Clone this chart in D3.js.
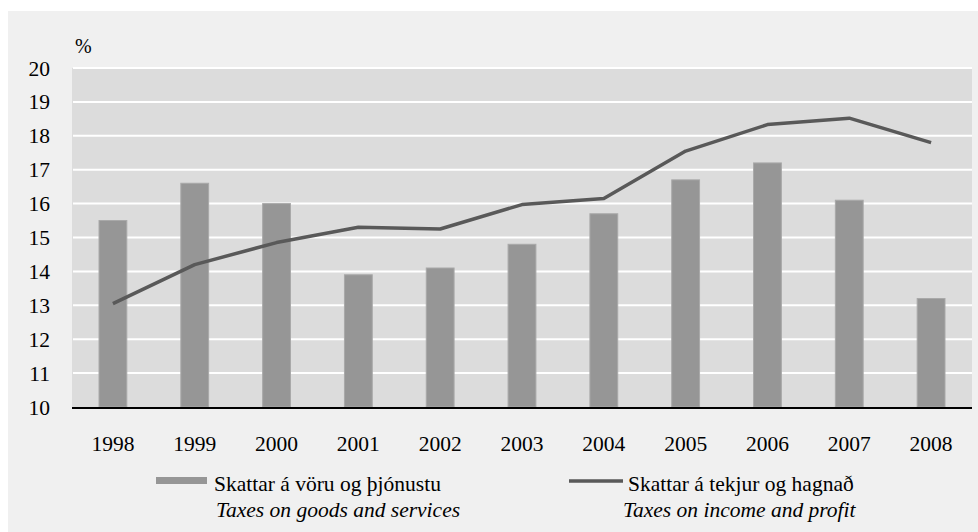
<!DOCTYPE html>
<html>
<head>
<meta charset="utf-8">
<script src="https://cdn.jsdelivr.net/npm/d3@7"></script>
<style>
  html, body { margin: 0; padding: 0; background: #fff; }
  svg { display: block; }
  text { font-family: "Liberation Serif", serif; }
</style>
</head>
<body>
<div id="chart"></div>
<script>
const years = ["1998", "1999", "2000", "2001", "2002", "2003", "2004", "2005", "2006", "2007", "2008"];
const goodsServices = [15.5, 16.6, 16.0, 13.9, 14.1, 14.8, 15.7, 16.7, 17.2, 16.1, 13.2];
const incomeProfit = [13.05, 14.2, 14.85, 15.3, 15.25, 15.97, 16.15, 17.55, 18.33, 18.52, 17.8];
const yTicks = [10, 11, 12, 13, 14, 15, 16, 17, 18, 19, 20];
const legendBar = ["Skattar á vöru og þjónustu", "Taxes on goods and services"];
const legendLine = ["Skattar á tekjur og hagnað", "Taxes on income and profit"];

const width = 978, height = 532;
const plot = { left: 72, right: 972, top: 68, bottom: 407 };
const serif = "Liberation Serif";

const svg = d3.select("#chart").append("svg")
  .attr("width", width)
  .attr("height", height)
  .attr("font-family", serif);

// outer gray panel
svg.append("rect")
  .attr("x", 8).attr("y", 11)
  .attr("width", width - 8).attr("height", height - 11)
  .attr("fill", "#f0f0f0");

const x = d3.scaleBand().domain(years).range([plot.left, plot.right]).padding(0);
const y = d3.scaleLinear().domain([10, 20]).range([plot.bottom, plot.top]);

// plot background
svg.append("rect")
  .attr("x", plot.left).attr("y", plot.top)
  .attr("width", plot.right - plot.left).attr("height", plot.bottom - plot.top)
  .attr("fill", "#dcdcdc");

// gridlines
svg.append("g").selectAll("line")
  .data(yTicks.filter(d => d > 10))
  .join("line")
  .attr("x1", plot.left + 1).attr("x2", plot.right)
  .attr("y1", d => y(d)).attr("y2", d => y(d))
  .attr("stroke", "#ffffff").attr("stroke-width", 2);

// bars
const barW = x.bandwidth() * 0.34;
svg.append("g").selectAll("rect")
  .data(goodsServices)
  .join("rect")
  .attr("x", (d, i) => x(years[i]) + x.bandwidth() / 2 - barW / 2)
  .attr("y", d => y(d))
  .attr("width", barW)
  .attr("height", d => y(10) - y(d))
  .attr("fill", "#969696")
  .attr("stroke", "#a9a9a9")
  .attr("stroke-width", 1);

// line
const line = d3.line()
  .x((d, i) => x(years[i]) + x.bandwidth() / 2)
  .y(d => y(d));
svg.append("path")
  .datum(incomeProfit)
  .attr("d", line)
  .attr("fill", "none")
  .attr("stroke", "#595959")
  .attr("stroke-width", 3.5)
  .attr("stroke-linejoin", "round");

// x axis line
svg.append("line")
  .attr("x1", plot.left).attr("x2", plot.right)
  .attr("y1", plot.bottom + 1).attr("y2", plot.bottom + 1)
  .attr("stroke", "#000").attr("stroke-width", 2);

// y tick labels
svg.append("g").selectAll("text")
  .data(yTicks)
  .join("text")
  .attr("x", 50)
  .attr("y", d => y(d))
  .attr("dy", "0.35em")
  .attr("text-anchor", "end")
  .attr("font-family", serif)
  .attr("font-size", 21.5)
  .attr("fill", "#000")
  .text(d => d);

svg.append("text")
  .attr("x", 75).attr("y", 53)
  .attr("font-family", serif)
  .attr("font-size", 20)
  .text("%");

// x labels
svg.append("g").selectAll("text")
  .data(years)
  .join("text")
  .attr("x", d => x(d) + x.bandwidth() / 2)
  .attr("y", 451)
  .attr("text-anchor", "middle")
  .attr("font-family", serif)
  .attr("font-size", 21.5)
  .text(d => d);

// legend
const lg = svg.append("g").attr("font-size", 21.5).attr("font-family", serif);
lg.append("rect")
  .attr("x", 156).attr("y", 477)
  .attr("width", 51).attr("height", 7)
  .attr("fill", "#969696");
lg.append("text").attr("x", 214).attr("y", 491).text(legendBar[0]);
lg.append("text").attr("x", 216).attr("y", 517).attr("font-style", "italic").text(legendBar[1]);

lg.append("line")
  .attr("x1", 569).attr("x2", 623)
  .attr("y1", 481).attr("y2", 481)
  .attr("stroke", "#595959").attr("stroke-width", 3.5);
lg.append("text").attr("x", 628).attr("y", 491).text(legendLine[0]);
lg.append("text").attr("x", 623).attr("y", 517).attr("font-style", "italic").text(legendLine[1]);
</script>
</body>
</html>
